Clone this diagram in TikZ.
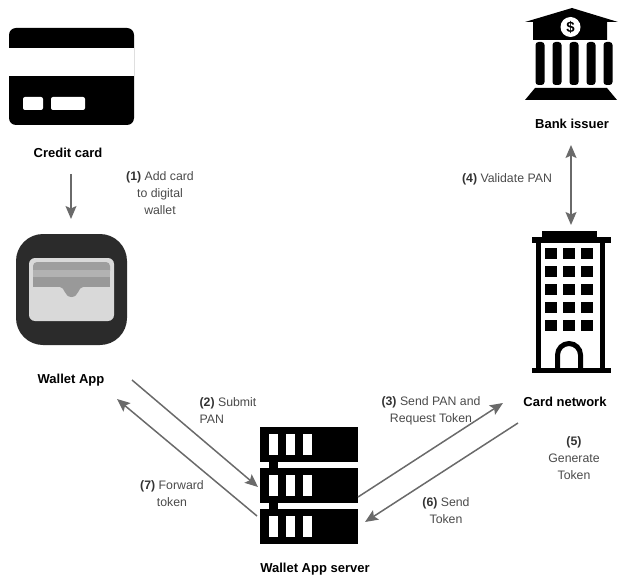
\documentclass[tikz,border=0pt]{standalone}
\usepackage{fontspec}
\setmainfont{Liberation Sans}
\usetikzlibrary{arrows.meta}
\definecolor{arrowgray}{HTML}{6A6A6A}
\definecolor{labelgray}{HTML}{4A4A4A}
\definecolor{numgray}{HTML}{333333}
\definecolor{appdark}{HTML}{2B2B2B}
\tikzset{
  title/.style={font=\fontsize{13}{15}\selectfont\bfseries,text=black,inner sep=0pt,anchor=center},
  note/.style={font=\fontsize{12.3}{17}\selectfont,text=labelgray,inner sep=0pt,align=center,anchor=center},
  flow/.style={draw=arrowgray,line width=1.5pt,-{Stealth[length=13pt,width=11pt,inset=2.5pt]}},
  flowboth/.style={draw=arrowgray,line width=1.5pt,{Stealth[length=13pt,width=11pt,inset=2.5pt]}-{Stealth[length=13pt,width=11pt,inset=2.5pt]}},
}
\newcommand{\stepnum}[1]{{\bfseries\color{numgray}#1}}
\begin{document}
\begin{tikzpicture}[x=1pt,y=-1pt]
\useasboundingbox (0,0) rectangle (618,580);
% credit card
\fill[black,rounded corners=7pt] (9,28) rectangle (134,125);
\fill[white] (9,48.5) rectangle (134,76);
\fill[white,rounded corners=2pt] (23,97) rectangle (43,110);
\fill[white,rounded corners=2pt] (51,97) rectangle (85,110);
% wallet app
\fill[appdark,rounded corners=27pt] (16,234) rectangle (127,345);
\fill[black!15,rounded corners=6pt] (29,258) rectangle (114,321);
\fill[black!38,rounded corners=4pt] (33,262) rectangle (110,275);
\fill[black!30] (33,270) rectangle (110,277);
\fill[black!40] (33,277) rectangle (110,287);
\fill[black!40] (60,287) .. controls (65,287) and (64,297) .. (71.5,297) .. controls (79,297) and (78,287) .. (83,287) -- cycle;
% bank
\fill[black] (525,22) -- (572,8) -- (618,22) -- (607,22) -- (607,40) -- (533,40) -- (533,22) -- cycle;
\fill[white] (570.5,27) circle [radius=10pt];
\node[inner sep=0pt,font=\fontsize{15}{15}\selectfont\bfseries] (dollar) at (570.5,27) {\$};
\foreach \cx in {540,557,574,591,608}{
  \fill[black,rounded corners=3pt] (\cx-4.5,42) rectangle (\cx+4.5,85);
}
\fill[black] (535,88) -- (607,88) -- (617,100) -- (525,100) -- cycle;
% building
\fill[black] (542,231) rectangle (597,238);
\fill[black] (532,237) rectangle (611,243);
\fill[black] (536,243) rectangle (541,369);
\fill[black] (600,243) rectangle (605,369);
\fill[black] (532,368) rectangle (611,373);
\foreach \wy in {248,266,284,302,320}{
  \foreach \wx in {545,563,581}{
    \fill[black] (\wx,\wy) rectangle (\wx+12,\wy+11);
  }
}
\draw[black,line width=5pt] (557.5,368) -- (557.5,355) arc[start angle=180,end angle=0,radius=11.5pt] -- (580.5,368);
% server
\foreach \sy in {427,468,509}{
  \fill[black] (260,\sy) rectangle (358,\sy+35);
  \foreach \sx in {269,286,303}{
    \fill[white] (\sx,\sy+7) rectangle (\sx+9,\sy+28);
  }
}
\fill[black] (269,462) rectangle (278,468);
\fill[black] (269,503) rectangle (278,509);
% titles
\node[title] (creditcard) at (68,153) {Credit card};
\node[title] (walletapp) at (71,380) {Wallet App};
\node[title] (bankissuer) at (572,124) {Bank issuer};
\node[title] (cardnetwork) at (565,402) {Card network};
\node[title] (walletserver) at (315,569) {Wallet App server};
% notes
\node[note] (n1) at (160,193) {\stepnum{(1)} Add card\\to digital\\wallet};
\node[note,align=left] (n2) at (228,411) {\stepnum{(2)} Submit\\PAN};
\node[note] (n3) at (431,411) {\stepnum{(3)} Send PAN and\\Request Token};
\node[note] (n4) at (507,179) {\stepnum{(4)} Validate PAN};
\node[note] (n5) at (574,458) {\stepnum{(5)}\\Generate\\Token};
\node[note] (n6) at (446,511) {\stepnum{(6)} Send\\Token};
\node[note] (n7) at (172,494) {\stepnum{(7)} Forward\\token};
% connector ends
\coordinate (cardout) at (71,174);
\coordinate (appin) at (71,219);
\coordinate (bankend) at (571,145);
\coordinate (netend) at (571,225);
\coordinate (appout) at (132,380);
\coordinate (srvin) at (258,487);
\coordinate (srvout) at (257,516);
\coordinate (appback) at (117,399);
\coordinate (srvup) at (358,497);
\coordinate (netin) at (503,403);
\coordinate (netout) at (518,423);
\coordinate (srvback) at (365,522);
\draw[flow] (cardout) -- (appin);
\draw[flowboth] (bankend) -- (netend);
\draw[flow] (appout) -- (srvin);
\draw[flow] (srvout) -- (appback);
\draw[flow] (srvup) -- (netin);
\draw[flow] (netout) -- (srvback);
\end{tikzpicture}
\end{document}
